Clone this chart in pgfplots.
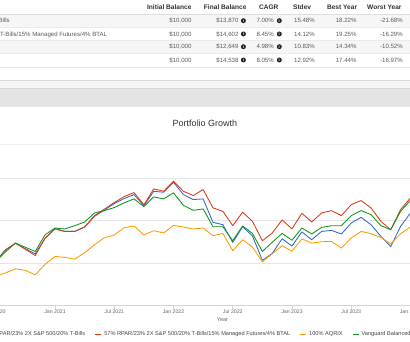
\documentclass[border=0pt]{standalone}
\usepackage{pgfplots}
\usepackage{pgfplotstable}
\pgfplotsset{compat=1.18}
\usepackage{fontspec}
\setmainfont{Liberation Sans}
\definecolor{cblue}{HTML}{3366CC}
\definecolor{cred}{HTML}{DC3912}
\definecolor{corange}{HTML}{FF9900}
\definecolor{cgreen}{HTML}{109618}
\definecolor{hdr}{HTML}{333333}
\definecolor{rowtxt}{HTML}{5A5A5A}
\definecolor{rowbg}{HTML}{F6F6F6}
\definecolor{hdrrule}{HTML}{DDDDDD}
\definecolor{rowrule}{HTML}{EBEBEB}
\definecolor{band1}{HTML}{F4F5F7}
\definecolor{band2}{HTML}{E4E4E4}
\definecolor{bandrule}{HTML}{D8D8D8}
\definecolor{faint}{HTML}{F0F0F0}
\definecolor{gridc}{HTML}{E6E6E6}
\definecolor{axisc}{HTML}{CCD6EB}
\definecolor{tickc}{HTML}{666666}
\definecolor{legtxt}{HTML}{444444}
\definecolor{iconc}{HTML}{222222}
\newcommand{\fs}[1]{\fontsize{#1}{#1}\selectfont}
\newcommand{\info}[2]{\fill[iconc] (#1,#2) circle (2.5);\node[text=white,font=\fs{4}\bfseries,inner sep=0pt] at (#1,#2) {i};}

\pgfplotstableread{
m blue red orange green
-6 10067 10067 9357 10067
-5 10619 10619 9524 10524
-4 10929 10929 9714 10938
-3 10667 10643 9643 10738
-2 10429 10348 9429 10538
-1 11167 11176 9929 11333
0 11619 11605 10300 11652
1 11490 11490 10262 11605
2 11490 11490 10176 11762
3 11700 11700 10476 11938
4 12205 12238 10857 12367
5 12500 12548 11190 12476
6 12810 12857 11319 12619
7 13048 13143 11667 12843
8 13238 13333 11748 13033
9 12714 12748 11319 12667
10 13395 13510 11524 13129
11 13348 13395 11414 13033
12 13824 13871 11776 13319
13 13238 13395 11700 12729
14 13000 13190 11605 12490
15 13033 13476 11652 12557
16 11919 12605 11286 11714
17 11810 12443 11395 11714
18 10967 11762 10571 11048
19 11714 12405 11095 11748
20 11271 11967 10748 11390
21 10119 11048 10048 10538
22 10443 11414 10429 10976
23 11143 12033 10810 11395
24 10795 11610 10557 11071
25 11467 12348 11133 11652
26 11095 11938 10938 11367
27 11490 12367 11000 11681
28 11538 12476 11014 11762
29 11367 12238 10700 11762
30 11890 12762 11176 12238
31 12157 12952 11490 12476
32 11810 12605 11381 12286
33 11252 11967 11205 11762
34 10776 11571 10905 11571
35 11729 12524 11381 12443
36 12367 13081 11700 12967
}\growth

\begin{document}
\begin{tikzpicture}[x=1pt,y=1pt]
\useasboundingbox (0,0) rectangle (410,342);
\clip (0,0) rectangle (410,342);
\fill[white] (0,0) rectangle (410,342);
% ---- table ----
\fill[rowbg] (0,314.5) rectangle (410,328);
\fill[rowbg] (0,288.5) rectangle (410,301.5);
\draw[hdrrule,line width=0.8pt] (0,328) -- (410,328);
\foreach \yy in {314.5,301.5,288.5,275}{\draw[rowrule,line width=0.5pt] (0,\yy) -- (410,\yy);}
\begin{scope}[every node/.style={inner sep=0pt,anchor=base east,font={\fs{6.6}\bfseries},text=hdr}]
\node at (191.7,332.3) {Initial Balance};
\node at (246.7,332.3) {Final Balance};
\node at (278.7,332.3) {CAGR};
\node at (311.3,332.3) {Stdev};
\node at (357.3,332.3) {Best Year};
\node at (401.7,332.3) {Worst Year};
\end{scope}
\begin{scope}[every node/.style={inner sep=0pt,anchor=base east,font=\fs{6.1},text=rowtxt}]
\node at (10,319.1) {57\% RPAR/23\% 2X S\&P 500/20\% T-Bills};
\node at (107.3,305.8) {57\% RPAR/23\% 2X S\&P 500/20\% T-Bills/15\% Managed Futures/4\% BTAL};
\node at (-70,293.1) {100\% AQRIX};
\node at (-40,279.8) {Vanguard Balanced Index Inv};
% row 1
\node at (191.7,319.1) {\$10,000};
\node at (238.7,319.1) {\$13,870};
\node at (274,319.1) {7.00\%};
\node at (315,319.1) {15.48\%};
\node at (356.7,319.1) {18.22\%};
\node at (403,319.1) {-21.68\%};
% row 2
\node at (191.7,305.8) {\$10,000};
\node at (238.7,305.8) {\$14,602};
\node at (274,305.8) {8.45\%};
\node at (315,305.8) {14.12\%};
\node at (356.7,305.8) {19.25\%};
\node at (403,305.8) {-16.29\%};
% row 3
\node at (191.7,293.1) {\$10,000};
\node at (238.7,293.1) {\$12,649};
\node at (274,293.1) {4.98\%};
\node at (315,293.1) {10.83\%};
\node at (356.7,293.1) {14.34\%};
\node at (403,293.1) {-10.52\%};
% row 4
\node at (191.7,279.8) {\$10,000};
\node at (238.7,279.8) {\$14,538};
\node at (274,279.8) {8.05\%};
\node at (315,279.8) {12.92\%};
\node at (356.7,279.8) {17.44\%};
\node at (403,279.8) {-16.97\%};
\end{scope}
\foreach \yy in {321.3,308,295.3,282}{\info{243.4}{\yy}\info{279.3}{\yy}}
% ---- band ----
\fill[band1] (0,253.5) rectangle (410,261.5);
\fill[band2] (0,235) rectangle (410,253.5);
\draw[bandrule,line width=0.5pt] (0,261.5) -- (410,261.5);
\draw[bandrule,line width=0.5pt] (0,253.5) -- (410,253.5);
% ---- title ----
\node[font=\fs{9},text=hdr,anchor=base,inner sep=0pt] at (205,215.6) {Portfolio Growth};
\draw[faint,line width=0.6pt] (0,198) -- (410,198);
% ---- chart ----
\begin{axis}[
  at={(-24pt,37pt)}, anchor=south west,
  scale only axis, width=454.25pt, height=126.5pt,
  xmin=-8, xmax=38, ymin=8000, ymax=14000,
  axis lines*=left,
  axis line style={-},
  y axis line style={draw=none},
  x axis line style={draw=axisc,line width=0.7pt},
  xtick={-6,0,6,12,18,24,30,36},
  xticklabels={Jul 2020,Jan 2021,Jul 2021,Jan 2022,Jul 2022,Jan 2023,Jul 2023,Jan 2024},
  ytick={10000,12000,14000}, yticklabels={},
  ymajorgrids, grid style={draw=gridc,line width=0.6pt},
  ytick style={draw=none},
  xtick style={draw=axisc,line width=0.6pt},
  tick align=outside, major tick length=4pt,
  xticklabel style={font=\fs{5.2},text=tickc,inner sep=0pt,anchor=center,yshift=-3pt},
  xlabel={Year},
  xlabel style={at={(axis description cs:0.5427,-0.1186)},anchor=center,font=\fs{5.5},text=tickc,inner sep=0pt},
  legend columns=-1,
  legend cell align=left,
  legend style={at={(axis description cs:-0.02729,-0.2316)},anchor=west,draw=none,fill=none,
     inner sep=0pt,outer sep=0pt,column sep=0pt,font=\fs{5.62},text=legtxt,nodes={inner sep=0pt}},
  legend image code/.code={\path[draw=none,fill=none] (0pt,-1pt) rectangle (19pt,1pt);\draw[#1,line width=1pt] (10pt,0pt) -- (16pt,0pt);},
]
\addplot[cblue,line width=0.85pt,line join=round] table[x=m,y=blue]{\growth};
\addlegendentry{57\% RPAR/23\% 2X S\&P 500/20\% T-Bills}
\addplot[cred,line width=0.85pt,line join=round] table[x=m,y=red]{\growth};
\addlegendentry{57\% RPAR/23\% 2X S\&P 500/20\% T-Bills/15\% Managed Futures/4\% BTAL}
\addplot[corange,line width=0.85pt,line join=round] table[x=m,y=orange]{\growth};
\addlegendentry{100\% AQRIX}
\addplot[cgreen,line width=0.85pt,line join=round] table[x=m,y=green]{\growth};
\addlegendentry{Vanguard Balanced Index Inv}
\end{axis}
\end{tikzpicture}
\end{document}
